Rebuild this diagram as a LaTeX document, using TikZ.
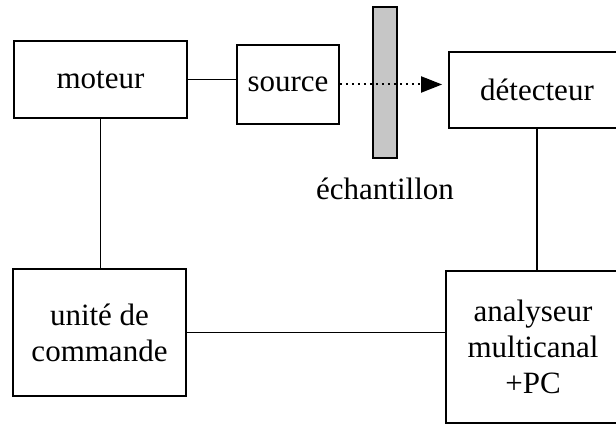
\documentclass[tikz,border=0pt]{standalone}
\usepackage{fontspec}
\setmainfont{Liberation Serif}
\usetikzlibrary{arrows.meta}
\usetikzlibrary{positioning}

\begin{document}
\begin{tikzpicture}[x=0.5pt,y=0.5pt,bloc/.style={draw,line width=0.9pt,inner sep=0pt,align=center,font=\fontsize{15.5}{18}\selectfont},lien/.style={draw,line width=0.8pt}]
  \useasboundingbox (0,0) rectangle (616,426);
  \clip (0,0) rectangle (616,426);
  %top row
  \node[bloc,minimum width=86.5pt,minimum height=38.5pt] (moteur) at (100.5,346.5) {moteur};
  \node[bloc,minimum width=51pt,minimum height=39.5pt] (source) at (288,341.5) {source};
  \node[draw,line width=1pt,fill=gray!45,minimum width=12pt,minimum height=75.5pt,inner sep=0pt] (echantillon) at (385,343.5) {};
  \node[bloc,minimum width=88pt,minimum height=38pt] (detecteur) at (537,336) {détecteur};
  \node[font=\fontsize{15.5}{18}\selectfont,below=6pt of echantillon] (etiquette) {échantillon};
  %bottom row
  \node[bloc,minimum width=86.5pt,minimum height=63.5pt] (unite) at (99.5,93.5) {unité de\\commande};
  \node[bloc,minimum width=87pt,minimum height=76pt] (analyseur) at (533,79) {analyseur\\multicanal\\+PC};
  %connections
  \draw[lien] (moteur.east) -- (moteur.east -| source.west);
  \draw[lien,line width=1pt,dotted,-{Triangle[length=10.5pt,width=8pt]}] (source.east) -- ([xshift=-3pt]source.east -| detecteur.west);
  \draw[lien] (moteur.south) -- (moteur.south |- unite.north);
  \draw[lien] (detecteur.south) -- (detecteur.south |- analyseur.north);
  \draw[lien] (unite.east) -- (unite.east -| analyseur.west);
\end{tikzpicture}
\end{document}
